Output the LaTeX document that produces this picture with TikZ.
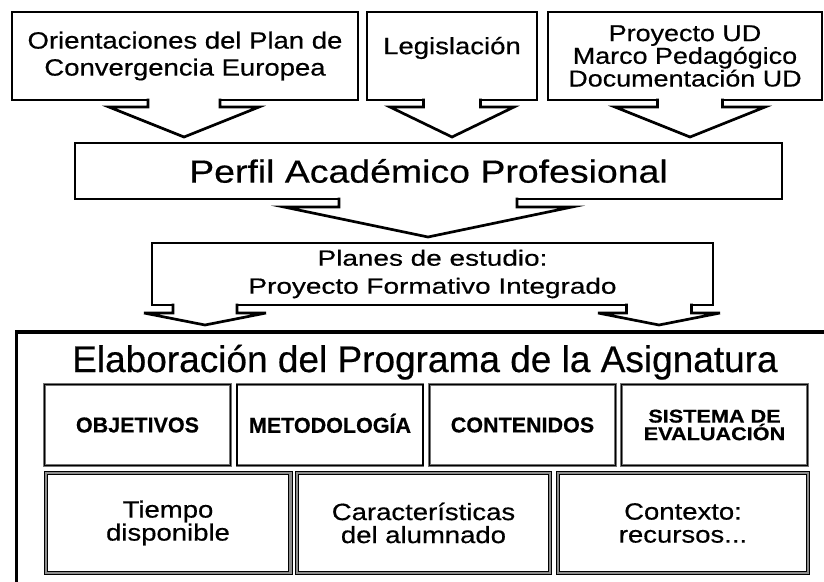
\documentclass[tikz,border=0pt]{standalone}
\usepackage{fontspec}
\setmainfont{Liberation Sans}[FakeBold=0.5]
\newfontfamily\ancha{Liberation Sans}[FakeStretch=1.17, FakeBold=0.5]
\newfontfamily\masancha{Liberation Sans}[FakeStretch=1.27, FakeBold=0.5]

% flecha de bloque: caja, punta, semiancho del tronco, semiancho de la cabeza, caida
\newcommand{\flecha}[5]{%
  \begin{scope}[shift={(#2 |- #1.south)}]
    \fill[white] (-#3,-2) -- (-#3,#5) -- (-#4,#5) -- (#2) -- (#4,#5) -- (#3,#5) -- (#3,-2) -- cycle;
    \draw[trazo] (-#3,-1.3) -- (-#3,#5) -- (-#4,#5) -- (#2) -- (#4,#5) -- (#3,#5) -- (#3,-1.3);
  \end{scope}}

\begin{document}
\begin{tikzpicture}[x=1pt, y=-1pt,
    caja/.style={draw, line width=2.7pt, outer sep=0pt, inner sep=0pt, align=center},
    trazo/.style={line width=2.7pt},
    celda/.style={draw=black!55, line width=0.6pt, double=black, double distance=1.6pt,
                  outer sep=0pt, inner sep=0pt, align=center, minimum width=186pt, minimum height=81pt,
                  font=\bfseries\fontsize{21.5}{15}\selectfont},
    celdados/.style={draw=black, line width=1pt, double=black!45, double distance=2.4pt,
                  outer sep=0pt, inner sep=0pt, align=center, minimum height=99.6pt,
                  font=\ancha\fontsize{23.5}{23}\selectfont}]
    \useasboundingbox (0,0) rectangle (824,581);

    \node[caja, minimum width=346pt, minimum height=88pt, font=\ancha\fontsize{23.5}{27}\selectfont] (o) at (185,56) {Orientaciones del Plan de\\Convergencia Europea};
    \node[caja, minimum width=170pt, minimum height=88pt, text depth=21pt, font=\ancha\fontsize{23.5}{27}\selectfont] (l) at (452,56) {Legislación};
    \node[caja, minimum width=274pt, minimum height=88pt, font=\ancha\fontsize{23}{21.5}\selectfont] (u) at (685,56) {Proyecto UD\\Marco Pedagógico\\Documentación UD};
    \node[caja, minimum width=707pt, minimum height=56pt, font=\ancha\fontsize{32}{38}\selectfont] (pf) at (428.5,171) {Perfil Académico Profesional};
    \node[caja, minimum width=561pt, minimum height=62pt, font=\masancha\fontsize{22}{28}\selectfont] (pe) at (432.5,274) {Planes de estudio:\\Proyecto Formativo Integrado};

    \coordinate (t1) at (184,137);
    \coordinate (t2) at (452,137);
    \coordinate (t3) at (690,137);
    \coordinate (t4) at (428,237);
    \coordinate (t5) at (205,325);
    \coordinate (t6) at (659,325);
    \flecha{o}{t1}{36}{75}{7}
    \flecha{l}{t2}{28.5}{62}{7}
    \flecha{u}{t3}{32.5}{75}{7}
    \flecha{pf}{t4}{89}{144}{8}
    \flecha{pe}{t5}{32}{61}{8}
    \flecha{pe}{t6}{32.5}{61}{8}

    \node[draw, line width=3.5pt, outer sep=0pt, anchor=north west, minimum width=830pt, minimum height=300pt] (ep) at (16.5,332) {};
    \node[font=\fontsize{37}{44}\selectfont, anchor=base] (tit) at (425,372) {Elaboración del Programa de la Asignatura};

    \node[celda] (ob) at (137.5,425) {OBJETIVOS};
    \node[celda, text height=15.5pt, text depth=0pt] (me) at (330,425) {METODOLOGÍA};
    \node[celda] (co) at (522.5,425) {CONTENIDOS};
    \node[celda, font=\ancha\bfseries\fontsize{18.5}{15}\selectfont] (se) at (714.5,425) {SISTEMA DE\\EVALUACIÓN};

    \node[celdados, minimum width=244.6pt] (ti) at (168,523) {Tiempo\\disponible};
    \node[celdados, minimum width=252.6pt] (ca) at (423.5,523) {Características\\del alumnado};
    \node[celdados, minimum width=249.6pt] (cx) at (683,523) {Contexto:\\recursos...};
\end{tikzpicture}
\end{document}
